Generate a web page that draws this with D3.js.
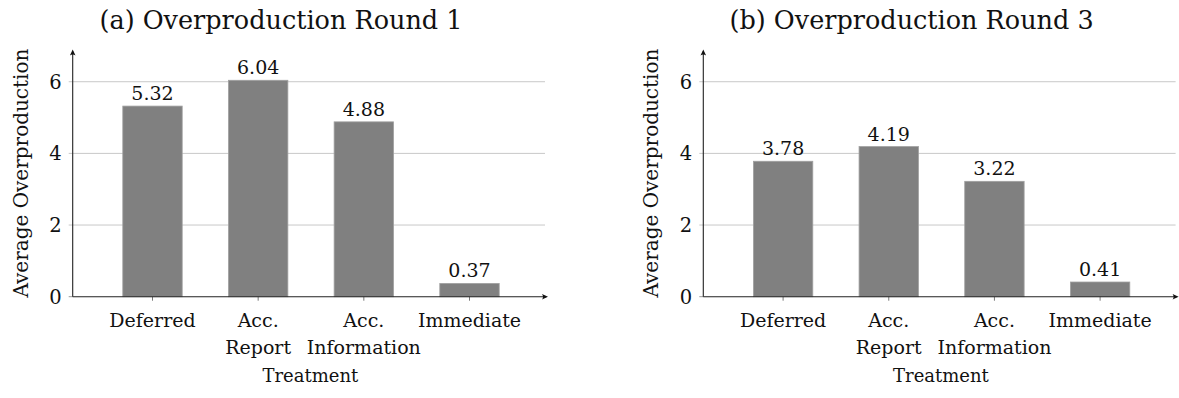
<!DOCTYPE html>
<html>
<head>
<meta charset="utf-8">
<script src="https://cdn.jsdelivr.net/npm/d3@7"></script>
<style>
  body { margin: 0; background: #fff; }
  text { font-family: "DejaVu Serif", serif; fill: #111; }
</style>
</head>
<body>
<div class="viz"></div>
<script>
// chart data
const catLine1 = ["Deferred", "Acc.", "Acc.", "Immediate"];
const catLine2 = ["", "Report", "Information", ""];
const round1 = [5.32, 6.04, 4.88, 0.37];
const round3 = [3.78, 4.19, 3.22, 0.41];
const yTicks = [0, 2, 4, 6];
const titles = ["(a) Overproduction Round 1", "(b) Overproduction Round 3"];

const SVGwd = 1179, SVGht = 398;

var svg = d3.select(".viz")
    .append("svg")
    .attr("width", SVGwd)
    .attr("height", SVGht);

function drawPanel(offX, title, values) {
    let g = svg.append("g").attr("transform", `translate(${offX}, 0)`);

    let axX = 72.7, axEnd = 548, y0 = 296.7;

    let x = d3.scalePoint()
        .domain(catLine1.map((d, i) => i))
        .range([152.5, 469.5]);

    let y = d3.scaleLinear()
        .domain([0, 6.9])
        .range([y0, y0 - 6.9 * 35.83]);

    // grid + y ticks
    g.selectAll(".grid")
        .data(yTicks.filter(d => d > 0))
        .enter().append("line")
        .attr("x1", axX - 4)
        .attr("x2", axEnd - 3)
        .attr("y1", d => y(d))
        .attr("y2", d => y(d))
        .attr("stroke", "#c8c8c8")
        .attr("stroke-width", 1);

    g.append("line")
        .attr("x1", axX - 4).attr("x2", axX)
        .attr("y1", y0).attr("y2", y0)
        .attr("stroke", "#999");

    g.selectAll(".ylab")
        .data(yTicks)
        .enter().append("text")
        .attr("x", axX - 11)
        .attr("y", d => y(d) + 7)
        .attr("text-anchor", "end")
        .style("font-size", "19.5px")
        .text(d => d);

    // bars
    g.selectAll(".bar")
        .data(values)
        .enter().append("rect")
        .attr("x", (d, i) => x(i) - 29.7)
        .attr("width", 59.4)
        .attr("y", d => y(d))
        .attr("height", d => y0 - y(d))
        .attr("fill", "#808080")
        .attr("stroke", "#a0a0a0")
        .attr("stroke-width", 0.8);

    g.selectAll(".val")
        .data(values)
        .enter().append("text")
        .attr("x", (d, i) => x(i))
        .attr("y", d => y(d) - 6)
        .attr("text-anchor", "middle")
        .style("font-size", "19px")
        .text(d => d3.format(".2f")(d));

    // x ticks
    g.selectAll(".xtick")
        .data(values)
        .enter().append("line")
        .attr("x1", (d, i) => x(i))
        .attr("x2", (d, i) => x(i))
        .attr("y1", y0)
        .attr("y2", y0 + 4)
        .attr("stroke", "#777");

    // axes with arrows
    g.append("line")
        .attr("x1", axX).attr("x2", axEnd - 2)
        .attr("y1", y0).attr("y2", y0)
        .attr("stroke", "#222").attr("stroke-width", 1.1);
    g.append("path")
        .attr("d", `M${axEnd},${y0} L${axEnd - 6},${y0 - 2.8} Q${axEnd - 4},${y0} ${axEnd - 6},${y0 + 2.8} Z`)
        .attr("fill", "#111");

    let yTop = y(6.9);
    g.append("line")
        .attr("x1", axX).attr("x2", axX)
        .attr("y1", y0).attr("y2", yTop + 2)
        .attr("stroke", "#222").attr("stroke-width", 1.1);
    g.append("path")
        .attr("d", `M${axX},${yTop} L${axX - 2.8},${yTop + 6} Q${axX},${yTop + 4} ${axX + 2.8},${yTop + 6} Z`)
        .attr("fill", "#111");

    // category labels
    g.selectAll(".cat1")
        .data(catLine1)
        .enter().append("text")
        .attr("x", (d, i) => x(i))
        .attr("y", 327)
        .attr("text-anchor", "middle")
        .style("font-size", "19px")
        .text(d => d);
    g.selectAll(".cat2")
        .data(catLine2)
        .enter().append("text")
        .attr("x", (d, i) => x(i))
        .attr("y", 353.5)
        .attr("text-anchor", "middle")
        .style("font-size", "19px")
        .text(d => d);

    g.append("text")
        .attr("x", (axX + axEnd) / 2)
        .attr("y", 382)
        .attr("text-anchor", "middle")
        .style("font-size", "18px")
        .text("Treatment");

    g.append("text")
        .attr("transform", `translate(27.5, ${(y0 + yTop) / 2}) rotate(-90)`)
        .attr("text-anchor", "middle")
        .style("font-size", "20px")
        .text("Average Overproduction");

    g.append("text")
        .attr("x", 281)
        .attr("y", 29)
        .attr("text-anchor", "middle")
        .style("font-size", "25.5px")
        .text(title);
}

drawPanel(0, titles[0], round1);
drawPanel(630.6, titles[1], round3);
</script>
</body>
</html>
